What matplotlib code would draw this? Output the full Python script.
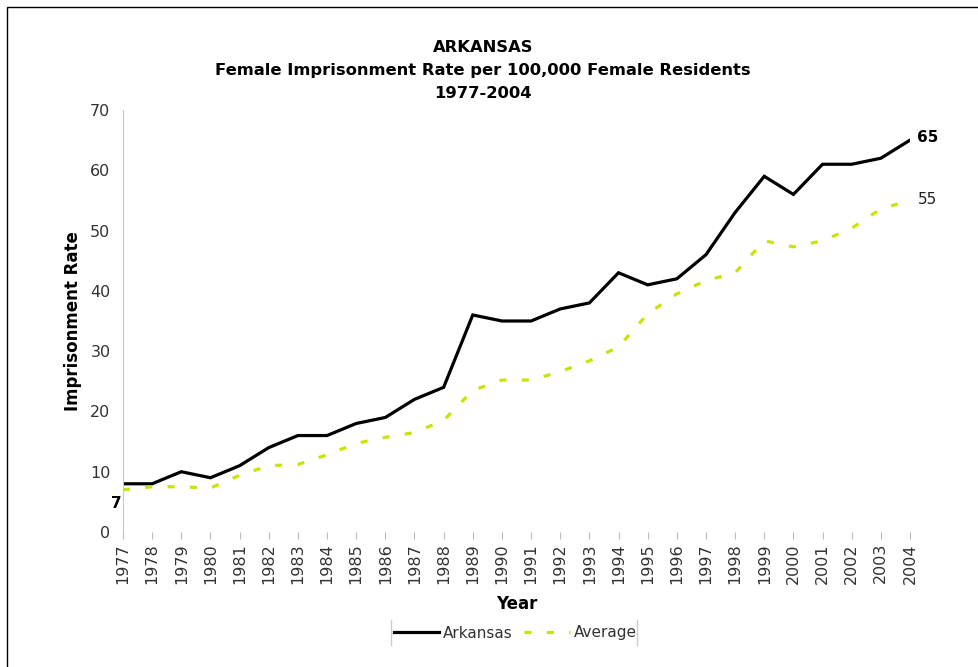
import matplotlib.pyplot as plt
from matplotlib.patches import Rectangle
from matplotlib.lines import Line2D

years = list(range(1977, 2005))
arkansas = [8, 8, 10, 9, 11, 14, 16, 16, 18, 19, 22, 24, 36, 35, 35, 37, 38,
            43, 41, 42, 46, 53, 59, 56, 61, 61, 62, 65]
average = [7, 7.5, 7.5, 7.3, 9.4, 11, 11.2, 12.8, 14.7, 15.7, 16.5, 18.5, 23.5,
           25.2, 25.2, 26.6, 28.4, 30.7, 36.2, 39.5, 41.7, 43, 48.3, 47.3, 48.3,
           50.4, 53.6, 55]

plt.rcParams['font.family'] = ['DejaVu Sans']

fig = plt.figure(figsize=(9.79, 6.67), dpi=100)
ax = fig.add_axes([123 / 979, 1 - 532 / 667, 787 / 979, 422 / 667])

x = list(range(len(years)))
ax.plot(x, arkansas, color="black", linewidth=2.3, label="Arkansas",
        solid_joinstyle="miter")
ax.plot(x, average, color="#c8e400", linewidth=2.3, dashes=(2.2, 4.8),
        label="Average")

# end/start labels
ax.annotate("7", (0, average[0]), xytext=(-1, -10), textcoords="offset points",
            ha="right", va="center", fontsize=11, fontweight="bold",
            annotation_clip=False)
ax.annotate("65", (x[-1], arkansas[-1]), xytext=(5, 2), textcoords="offset points",
            ha="left", va="center", fontsize=11, fontweight="bold",
            annotation_clip=False)
ax.annotate("55", (x[-1], average[-1]), xytext=(6, 1), textcoords="offset points",
            ha="left", va="center", fontsize=11, color="#222222",
            annotation_clip=False)

ax.set_xlim(0, 27)
ax.set_ylim(0, 70)
ax.set_yticks(range(0, 71, 10))
ax.set_xticks(x)
ax.set_xticklabels([str(y) for y in years], rotation=90, fontsize=11.5,
                   color="#333333")
ax.tick_params(axis="y", length=0, pad=9, labelsize=11.5, labelcolor="#333333")
ax.tick_params(axis="x", length=5, color="#bbbbbb", pad=3)
ax.spines[["top", "right", "bottom"]].set_visible(False)
ax.spines["left"].set_color("#c8c8c8")

ax.set_ylabel("Imprisonment Rate", fontsize=12, fontweight="bold", labelpad=6)
ax.set_xlabel("Year", fontsize=12, fontweight="bold", labelpad=8)

# chart title, centred on the chart area
tx = 483 / 979
fig.text(tx, 1 - 47 / 667, "ARKANSAS", ha="center", va="center",
         fontsize=11.8, fontweight="bold")
fig.text(tx, 1 - 71 / 667,
         "Female Imprisonment Rate per 100,000 Female Residents",
         ha="center", va="center", fontsize=11.8, fontweight="bold")
fig.text(tx, 1 - 93 / 667, "1977-2004", ha="center", va="center",
         fontsize=11.8, fontweight="bold")

leg = fig.legend(loc="center", bbox_to_anchor=(515 / 979, 1 - 633 / 667),
                 ncol=2, frameon=False, fontsize=11, handlelength=3,
                 handletextpad=0.2, columnspacing=0.8)
for t in leg.get_texts():
    t.set_color("#333333")

# legend side bars
fig.add_artist(Line2D([391 / 979, 391 / 979], [1 - 645 / 667, 1 - 620 / 667],
                      color="#cccccc", linewidth=1))
fig.add_artist(Line2D([637 / 979, 637 / 979], [1 - 645 / 667, 1 - 620 / 667],
                      color="#cccccc", linewidth=1))

# outer frame
fig.add_artist(Rectangle((7 / 979, -0.05), 1.1, 1 - 7 / 667 + 0.05,
                         transform=fig.transFigure, fill=False,
                         edgecolor="black", linewidth=1))

fig.savefig("out.png", dpi=100)
